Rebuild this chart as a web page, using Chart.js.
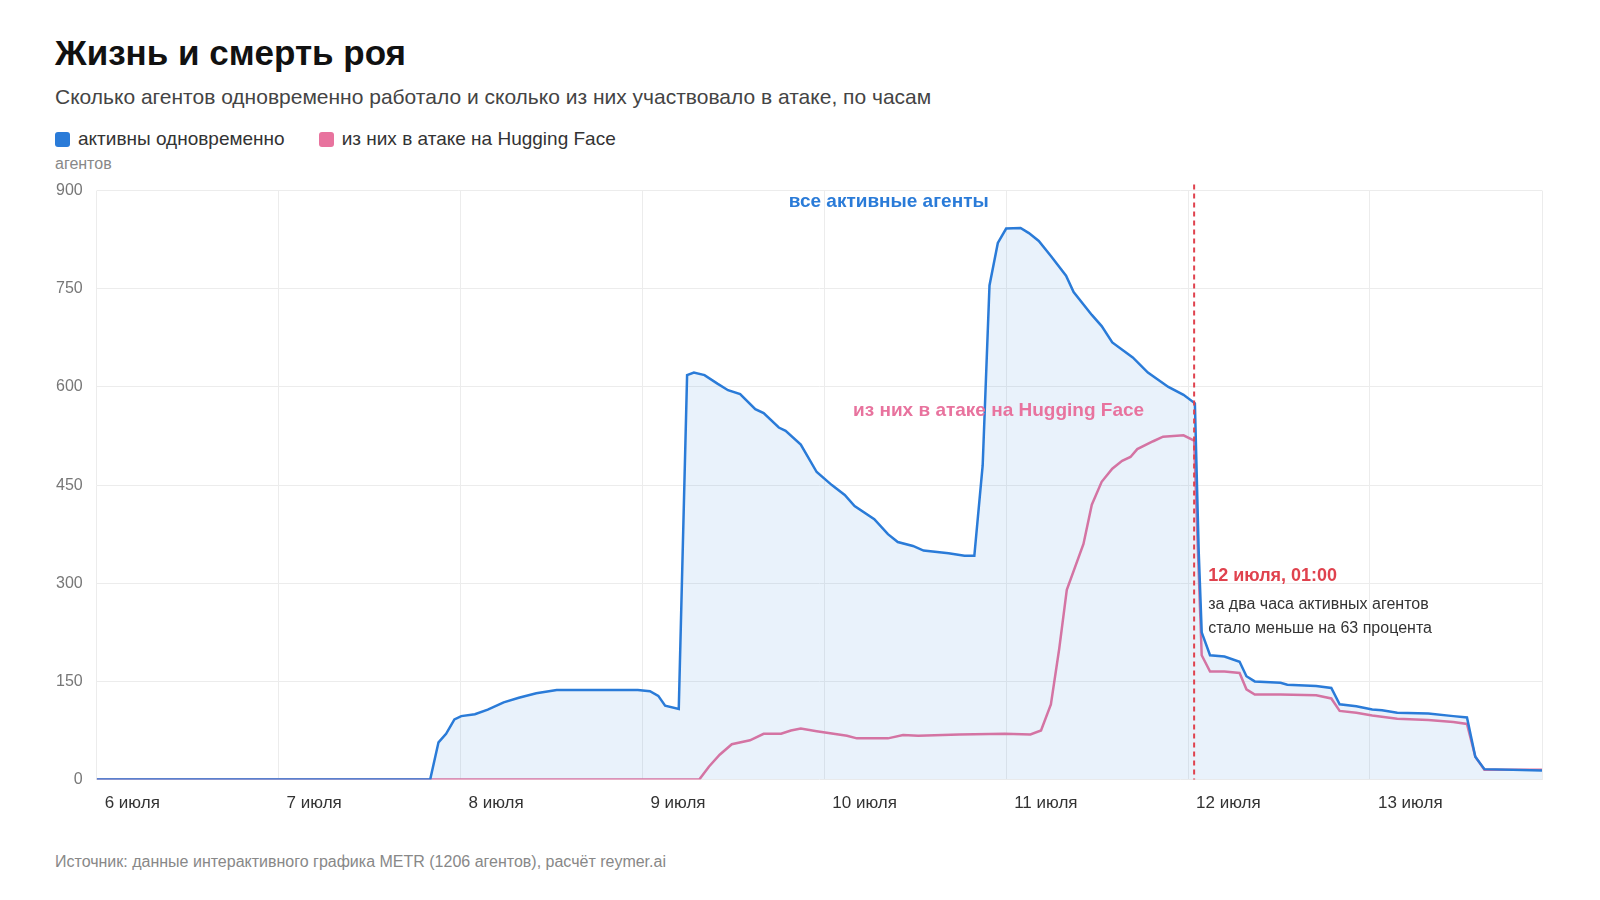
<!DOCTYPE html>
<html><head><meta charset="utf-8">
<script src="https://cdn.jsdelivr.net/npm/chart.js@4"></script>
<style>
body{margin:0;background:#fff;font-family:"Liberation Sans",Arial,sans-serif;color:#111}
h1{position:absolute;left:55px;top:33px;margin:0;font-size:35px;font-weight:bold}
.sub{position:absolute;left:55px;top:85px;font-size:21px;color:#444}
.legend{position:absolute;left:55px;top:128px;font-size:19px;color:#333}
.legend span{display:inline-block;width:15px;height:15px;border-radius:3px;vertical-align:-2px;margin-right:8px}
.unit{position:absolute;left:55px;top:155px;font-size:16px;color:#888}
.src{position:absolute;left:55px;top:853px;font-size:16px;color:#888}
#wrap{position:absolute;left:0;top:167px;width:1600px;height:661px}
</style></head><body>
<h1>Жизнь и смерть роя</h1>
<div class="sub">Сколько агентов одновременно работало и сколько из них участвовало в атаке, по часам</div>
<div class="legend"><span style="background:#2a7bd8"></span>активны одновременно<span style="background:#e8739e;margin-left:34px"></span>из них в атаке на Hugging Face</div>
<div class="unit">агентов</div>
<div id="wrap"><canvas id="c"></canvas></div>
<div class="src">Источник: данные интерактивного графика METR (1206 агентов), расчёт reymer.ai</div>
<script>
// hours since 6 July 00:00
const dayLabels = ["6 июля","7 июля","8 июля","9 июля","10 июля","11 июля","12 июля","13 июля"];
const activeHours = [0,44,45.1,46.1,47.2,48.1,49.9,51.6,53.7,55.7,58,60.7,68,71.4,73,74.1,75,76.8,77.9,78.8,80.2,81.9,83.3,84.9,86.9,88,90,90.9,92.9,95,97,98.7,100,102.6,104.4,105.7,107.7,109.1,112.4,114.5,115.8,116.9,117.8,118.9,120,121.9,123,124.3,125.9,127.9,128.9,131.3,132.6,134,136.7,138.7,141.4,143.4,144.9,145.4,145.8,146.9,148.8,150.8,151.7,152.8,156.2,157.1,160.9,162.9,164,166.2,168.3,169.6,171.6,175.7,179,180.8,181.9,183.1,190.7];
const activeValues = [0,0,57,70,92,97,100,107,118,125,132,137,137,137,135,128,113,108,618,622,618,605,595,589,566,560,538,533,512,470,450,435,418,398,375,363,357,350,346,342,342,480,755,820,842,843,835,823,800,770,745,710,693,668,645,622,600,588,575,350,225,190,188,180,158,150,148,145,143,140,115,112,107,106,102,101,97,95,35,16,14];
const attackHours = [0,79.5,80.8,82.2,83.8,86.2,88,90.3,91.6,92.9,95,99,100.3,104.4,106.4,108.4,113.8,119.8,123.2,124.6,125.9,127,128,130.2,131.3,132.6,134,135.3,136.4,137.3,139.4,140.7,143.4,144.8,145.3,145.8,146.9,148.8,150.8,151.7,152.8,156.2,160.9,162.9,164,166.2,168.3,171.6,175.7,179,180.8,181.9,183.1,190.7];
const attackValues = [0,0,20,38,54,60,70,70,75,78,74,67,63,63,68,67,69,70,69,75,115,200,290,360,420,455,475,487,493,505,517,524,526,518,350,190,165,165,163,138,130,130,129,124,105,102,98,93,91,88,85,35,15,15];
const markerHour = 144.8;

const pts = (xs, ys) => xs.map((x, i) => ({x, y: ys[i]}));

const notes = {
  id: "notes",
  afterDatasetsDraw(chart) {
    const {ctx, scales: {x, y}, chartArea} = chart;
    ctx.save();
    const mx = x.getPixelForValue(markerHour);
    ctx.strokeStyle = "#e0424e"; ctx.lineWidth = 2; ctx.setLineDash([5, 4]);
    ctx.beginPath(); ctx.moveTo(mx, chartArea.top - 6); ctx.lineTo(mx, chartArea.bottom); ctx.stroke();
    ctx.setLineDash([]);
    ctx.textBaseline = "middle";
    ctx.font = "bold 19px 'Liberation Sans', Arial";
    ctx.fillStyle = "#2a7bd8"; ctx.textAlign = "center";
    ctx.fillText("все активные агенты", x.getPixelForValue(104.5), y.getPixelForValue(883));
    ctx.fillStyle = "#e8739e";
    ctx.fillText("из них в атаке на Hugging Face", x.getPixelForValue(119), y.getPixelForValue(563));
    ctx.textAlign = "left";
    ctx.fillStyle = "#e0424e"; ctx.font = "bold 18px 'Liberation Sans', Arial";
    ctx.fillText("12 июля, 01:00", mx + 14, y.getPixelForValue(311));
    ctx.fillStyle = "#333"; ctx.font = "16px 'Liberation Sans', Arial";
    ctx.fillText("за два часа активных агентов", mx + 14, y.getPixelForValue(268));
    ctx.fillText("стало меньше на 63 процента", mx + 14, y.getPixelForValue(231));
    ctx.restore();
  }
};

new Chart(document.getElementById("c"), {
  type: "line",
  data: {
    datasets: [
      {label: "активны одновременно", data: pts(activeHours, activeValues), borderColor: "#2a7bd8",
       backgroundColor: "rgba(42,123,216,0.1)", fill: "origin", borderWidth: 2.5, pointRadius: 0, tension: 0},
      {label: "из них в атаке на Hugging Face", data: pts(attackHours, attackValues), borderColor: "#e8739e",
       fill: false, borderWidth: 2.5, pointRadius: 0, tension: 0}
    ]
  },
  options: {
    responsive: true, maintainAspectRatio: false, animation: false,
    layout: {padding: {left: 42, right: 58, top: 10, bottom: 0}},
    plugins: {legend: {display: false}, tooltip: {enabled: false}},
    scales: {
      x: {type: "linear", min: 0, max: 190.7,
          grid: {color: "#ececec", drawTicks: false}, border: {display: false},
          ticks: {stepSize: 24, align: "start", labelOffset: 8, padding: 14, color: "#333",
                  font: {size: 17, family: "'Liberation Sans', Arial"},
                  callback: v => dayLabels[v / 24] ?? ""}},
      y: {min: 0, max: 900,
          grid: {color: "#ececec", drawTicks: false}, border: {display: false},
          ticks: {stepSize: 150, padding: 14, color: "#777", font: {size: 16, family: "'Liberation Sans', Arial"}}}
    }
  },
  plugins: [notes]
});
</script>
</body></html>
